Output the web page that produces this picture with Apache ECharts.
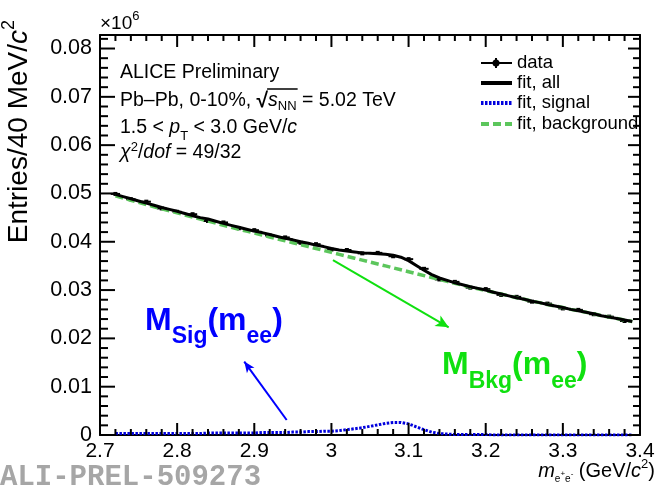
<!DOCTYPE html>
<html>
<head>
<meta charset="utf-8">
<script src="https://cdn.jsdelivr.net/npm/echarts@6/dist/echarts.min.js"></script>
<style>
  html, body { margin: 0; padding: 0; background: #fff; }
  #chart { width: 658px; height: 487px; }
</style>
</head>
<body>
<div id="chart"></div>
<script>
// Invariant-mass grid for the fit curves (GeV/c^2)
const curveMass = [
  2.72, 2.73, 2.74, 2.75, 2.76, 2.77, 2.78, 2.79,
  2.80, 2.81, 2.82, 2.83, 2.84, 2.85, 2.86, 2.87, 2.88, 2.89,
  2.90, 2.91, 2.92, 2.93, 2.94, 2.95, 2.96, 2.97, 2.98, 2.99,
  3.00, 3.01, 3.02, 3.03, 3.04, 3.05, 3.06, 3.07, 3.08, 3.09,
  3.10, 3.11, 3.12, 3.13, 3.14, 3.15, 3.16, 3.17, 3.18, 3.19,
  3.20, 3.21, 3.22, 3.23, 3.24, 3.25, 3.26, 3.27, 3.28, 3.29,
  3.30, 3.31, 3.32, 3.33, 3.34, 3.35, 3.36, 3.37, 3.38, 3.39
];
// Fit components, entries per bin in units of 10^6
const fitAll = [
  0.0498, 0.04935, 0.0489, 0.04845, 0.0480, 0.04755, 0.0471, 0.0467,
  0.0463, 0.04585, 0.0454, 0.0450, 0.0447, 0.04425, 0.0438, 0.0434, 0.0430, 0.0426,
  0.0422, 0.0419, 0.0415, 0.0411, 0.0407, 0.0404, 0.0400, 0.0397, 0.0393, 0.0390,
  0.0386, 0.0383, 0.0381, 0.0379, 0.0377, 0.0376, 0.0375, 0.0374, 0.0372, 0.0368,
  0.0361, 0.0351, 0.0341, 0.0332, 0.0325, 0.0320, 0.0315, 0.0311, 0.0307, 0.03035,
  0.0300, 0.02955, 0.0292, 0.0288, 0.0284, 0.0281, 0.0277, 0.0274, 0.0270, 0.0267,
  0.0264, 0.0260, 0.0257, 0.0254, 0.0251, 0.0247, 0.0244, 0.0241, 0.0238, 0.0235
];
const fitSignal = [
  0.0003, 0.0003, 0.0003, 0.0003, 0.0003, 0.0003, 0.0003, 0.0003,
  0.0003, 0.0003, 0.0003, 0.0003, 0.0004, 0.0004, 0.0004, 0.0004, 0.0004, 0.0004,
  0.0004, 0.0005, 0.0005, 0.0005, 0.0005, 0.0006, 0.0006, 0.0007, 0.0007, 0.0008,
  0.0008, 0.0009, 0.0011, 0.0013, 0.0015, 0.0018, 0.0021, 0.0024, 0.0026, 0.0026,
  0.0023, 0.0017, 0.0011, 0.0006, 0.0003, 0.0002, 0.0001, 0.0001, 0.0001, 0.0001,
  0.0001, 0, 0, 0, 0, 0, 0, 0, 0, 0,
  0, 0, 0, 0, 0, 0, 0, 0, 0, 0
];
const fitBackground = [
  0.0495, 0.04905, 0.0486, 0.04815, 0.0477, 0.04725, 0.0468, 0.0464,
  0.0460, 0.04555, 0.0451, 0.0447, 0.0443, 0.04385, 0.0434, 0.0430, 0.0426, 0.0422,
  0.0418, 0.0414, 0.0410, 0.0406, 0.0402, 0.0398, 0.0394, 0.0390, 0.0386, 0.0382,
  0.0378, 0.0374, 0.0370, 0.0366, 0.0362, 0.0358, 0.0354, 0.0350, 0.0346, 0.0342,
  0.0338, 0.0334, 0.0330, 0.0326, 0.0322, 0.0318, 0.0314, 0.0310, 0.0306, 0.03025,
  0.0299, 0.02955, 0.0292, 0.0288, 0.0284, 0.0281, 0.0277, 0.0274, 0.0270, 0.0267,
  0.0264, 0.0260, 0.0257, 0.0254, 0.0251, 0.0247, 0.0244, 0.0241, 0.0238, 0.0235
];
// Measured spectrum
const dataMass = [
  2.72, 2.74, 2.76, 2.78, 2.80, 2.82, 2.84, 2.86, 2.88, 2.90,
  2.92, 2.94, 2.96, 2.98, 3.00, 3.02, 3.04, 3.06, 3.08, 3.10,
  3.12, 3.14, 3.16, 3.18, 3.20, 3.22, 3.24, 3.26, 3.28, 3.30,
  3.32, 3.34, 3.36, 3.38
];
const dataEntries = [
  0.0499, 0.0488, 0.0483, 0.0469, 0.0462, 0.0457, 0.0443, 0.0440, 0.0428, 0.0424,
  0.0413, 0.0409, 0.0398, 0.0395, 0.0384, 0.0383, 0.0376, 0.0377, 0.0370, 0.0364,
  0.0344, 0.0322, 0.0317, 0.0305, 0.0302, 0.0290, 0.0286, 0.0276, 0.0272, 0.0262,
  0.0259, 0.0250, 0.0245, 0.0236
];
const dataError = [
  0.0003, 0.0003, 0.0003, 0.0003, 0.0003, 0.0003, 0.0003, 0.0003, 0.0003, 0.0003,
  0.0003, 0.0003, 0.0003, 0.0003, 0.0003, 0.0003, 0.0003, 0.0003, 0.0003, 0.0003,
  0.0003, 0.0003, 0.0003, 0.0003, 0.0003, 0.0003, 0.0003, 0.0003, 0.0003, 0.0003,
  0.0003, 0.0003, 0.0003, 0.0003
];
// Axis ticks and their labels
const massTicks = [2.7, 2.8, 2.9, 3.0, 3.1, 3.2, 3.3, 3.4];
const massTickLabels = ['2.7', '2.8', '2.9', '3', '3.1', '3.2', '3.3', '3.4'];
const entryTicks = [0, 0.01, 0.02, 0.03, 0.04, 0.05, 0.06, 0.07, 0.08];
const entryTickLabels = ['0', '0.01', '0.02', '0.03', '0.04', '0.05', '0.06', '0.07', '0.08'];

const FONT = '"Liberation Sans", Arial, Helvetica, sans-serif';
const X_MIN = 2.7, X_MAX = 3.4, Y_MIN = 0, Y_MAX = 0.0828;
const HALF_BIN = 0.006;
const TXT = 19.5;     // size of the labels inside the frame
const MINOR_DIV = 5;  // minor divisions per major interval

const pairs = (xs, ys) => xs.map((x, i) => [x, ys[i]]);

// minor tick positions: each major interval split in five, continued up to the frame top
function minorTicks(major, limit) {
  const out = [];
  const step = (major[1] - major[0]) / MINOR_DIV;
  for (let i = 0; i < major.length; i++) {
    for (let k = 1; k < MINOR_DIV; k++) {
      const v = major[i] + k * step;
      if (v < limit - 1e-9) out.push(v);
    }
  }
  return out;
}
const massMinor = minorTicks(massTicks, X_MAX);
const entryMinor = minorTicks(entryTicks, Y_MAX);

// text widths, used to place the bar of the square root
const measureCtx = document.createElement('canvas').getContext('2d');
function textWidth(str, font) { measureCtx.font = font; return measureCtx.measureText(str).width; }

const chart = echarts.init(document.getElementById('chart'), null, { renderer: 'canvas' });

function xLabel(v) {
  const i = massTicks.findIndex(t => Math.abs(t - v) < 1e-6);
  return i >= 0 ? massTickLabels[i] : '';
}
function yLabel(v) {
  const i = entryTicks.findIndex(t => Math.abs(t - v) < 1e-6);
  return i >= 0 ? entryTickLabels[i] : '';
}

function xAxisDef(pos, showLabel) {
  return {
    type: 'value', position: pos, min: X_MIN, max: X_MAX, interval: 0.1,
    axisLine: { show: true, onZero: false, lineStyle: { color: '#000', width: 2 } },
    axisTick: { show: false }, minorTick: { show: false },
    splitLine: { show: false },
    axisLabel: { show: showLabel, color: '#000', fontSize: 21, fontFamily: FONT, margin: 6, formatter: xLabel }
  };
}
function yAxisDef(pos, showLabel) {
  return {
    type: 'value', position: pos, min: Y_MIN, max: Y_MAX, interval: 0.01,
    axisLine: { show: true, onZero: false, lineStyle: { color: '#000', width: 2 } },
    axisTick: { show: false }, minorTick: { show: false },
    splitLine: { show: false },
    axisLabel: { show: showLabel, color: '#000', fontSize: 21.5, fontFamily: FONT, margin: 8, formatter: yLabel }
  };
}

// inward ticks on all four sides of the frame
function renderFrameTicks(params, api) {
  const cs = params.coordSys;
  const top = cs.y, bottom = cs.y + cs.height, left = cs.x, right = cs.x + cs.width;
  const kids = [];
  const seg = (x1, y1, x2, y2) => kids.push({
    type: 'line', shape: { x1: x1, y1: y1, x2: x2, y2: y2 }, style: { stroke: '#000', lineWidth: 2 }
  });
  massTicks.forEach(v => { const px = api.coord([v, Y_MIN])[0]; seg(px, bottom, px, bottom - 12); seg(px, top, px, top + 12); });
  massMinor.forEach(v => { const px = api.coord([v, Y_MIN])[0]; seg(px, bottom, px, bottom - 6); seg(px, top, px, top + 6); });
  entryTicks.forEach(v => { const py = api.coord([X_MIN, v])[1]; seg(left, py, left + 15, py); seg(right, py, right - 12, py); });
  entryMinor.forEach(v => { const py = api.coord([X_MIN, v])[1]; seg(left, py, left + 8, py); seg(right, py, right - 7, py); });
  return { type: 'group', children: kids };
}

const legendX0 = 481, legendX1 = 512, legendText = 517;
const legendRows = [63, 83, 103, 124];

// square-root bar over s_NN
const rootStart = 120 + textWidth('Pb–Pb, 0-10%, ', TXT + 'px "Liberation Sans"');
const rootEnd = rootStart + textWidth('√', 'bold 21px "Liberation Sans"');
const barEnd = rootEnd + textWidth('s', 'italic ' + TXT + 'px "Liberation Sans"') + textWidth('NN', '13px "Liberation Sans"');

const option = {
  animation: false,
  backgroundColor: '#fff',
  grid: { left: 100, right: 18, top: 35, bottom: 52 },
  xAxis: [xAxisDef('bottom', true), xAxisDef('top', false)],
  yAxis: [yAxisDef('left', true), yAxisDef('right', false)],
  series: [
    {
      name: 'frame ticks', type: 'custom', silent: true, z: 6,
      data: [[X_MIN, Y_MIN]],
      renderItem: renderFrameTicks
    },
    {
      name: 'data', type: 'custom', xAxisIndex: 0, yAxisIndex: 0, z: 2,
      data: dataMass.map((x, i) => [x, dataEntries[i], dataError[i]]),
      renderItem: function (params, api) {
        const x = api.value(0), y = api.value(1), e = api.value(2);
        const c = api.coord([x, y]);
        const hi = api.coord([x, y + e]);
        const lo = api.coord([x, y - e]);
        const l = api.coord([x - HALF_BIN, y]);
        const r = api.coord([x + HALF_BIN, y]);
        return {
          type: 'group', children: [
            { type: 'line', shape: { x1: l[0], y1: c[1], x2: r[0], y2: c[1] }, style: { stroke: '#000', lineWidth: 2 } },
            { type: 'line', shape: { x1: c[0], y1: hi[1], x2: c[0], y2: lo[1] }, style: { stroke: '#000', lineWidth: 2 } },
            { type: 'rect', shape: { x: c[0] - 2, y: c[1] - 2, width: 4, height: 4 }, style: { fill: '#000' } }
          ]
        };
      }
    },
    {
      name: 'fit, background', type: 'line', z: 3, showSymbol: false,
      data: pairs(curveMass, fitBackground),
      lineStyle: { color: '#5cc65c', width: 3.5, type: [8, 4] },
      markLine: {
        silent: true, symbol: ['none', 'arrow'], symbolSize: [9, 13],
        label: { show: false },
        lineStyle: { color: '#10e010', width: 2, type: 'solid' },
        data: [[{ coord: [3.002, 0.0362] }, { coord: [3.152, 0.0223] }]]
      }
    },
    {
      name: 'fit, signal', type: 'line', z: 4, showSymbol: false,
      data: pairs(curveMass, fitSignal),
      lineStyle: { color: '#0000dd', width: 3, type: [2.5, 1.5] },
      markLine: {
        silent: true, symbol: ['none', 'arrow'], symbolSize: [7, 11],
        label: { show: false },
        lineStyle: { color: '#0000ff', width: 2, type: 'solid' },
        data: [[{ coord: [2.942, 0.0031] }, { coord: [2.887, 0.0152] }]]
      }
    },
    {
      name: 'fit, all', type: 'line', z: 5, showSymbol: false,
      data: pairs(curveMass, fitAll),
      lineStyle: { color: '#000', width: 3 }
    }
  ],
  graphic: [
    // exponent of the y axis
    {
      type: 'text', x: 100, y: 24,
      style: {
        text: '{a|×10}{s|6}', verticalAlign: 'middle', align: 'left',
        rich: {
          a: { fontSize: 19, fontFamily: FONT, fill: '#000' },
          s: { fontSize: 13, fontFamily: FONT, fill: '#000', padding: [0, 0, 16, 0] }
        }
      }
    },
    // y axis title
    {
      type: 'text', x: 19, y: 20, rotation: Math.PI / 2,
      style: {
        text: '{a|Entries/40 MeV/}{i|c}{s|2}', align: 'right', verticalAlign: 'middle',
        rich: {
          a: { fontSize: 28, fontFamily: FONT, fill: '#000' },
          i: { fontSize: 28, fontFamily: FONT, fontStyle: 'italic', fill: '#000' },
          s: { fontSize: 18, fontFamily: FONT, fill: '#000', padding: [0, 0, 20, 0] }
        }
      }
    },
    // x axis title
    {
      type: 'text', x: 655, y: 471,
      style: {
        text: '{i|m}{sub|e}{ss|+}{sub|e}{ss|-}{a| (GeV/}{i|c}{sup|2}{a|)}', align: 'right', verticalAlign: 'middle',
        rich: {
          a: { fontSize: 20, fontFamily: FONT, fill: '#000' },
          i: { fontSize: 20, fontFamily: FONT, fontStyle: 'italic', fill: '#000' },
          sub: { fontSize: 10, fontFamily: FONT, fill: '#000', padding: [16, 0, 0, 0] },
          ss: { fontSize: 8, fontFamily: FONT, fill: '#000', padding: [6, 0, 0, 0] },
          sup: { fontSize: 13, fontFamily: FONT, fill: '#000', padding: [0, 0, 14, 0] }
        }
      }
    },
    // labels inside the frame
    {
      type: 'text', x: 120, y: 73,
      style: { text: 'ALICE Preliminary', fontSize: TXT, fontFamily: FONT, fill: '#000', verticalAlign: 'middle' }
    },
    {
      type: 'text', x: 120, y: 101,
      style: {
        text: '{a|Pb–Pb, 0-10%, }{r|√}{i|s}{sub|NN}{a| = 5.02 TeV}', verticalAlign: 'middle',
        rich: {
          a: { fontSize: TXT, fontFamily: FONT, fill: '#000' },
          r: { fontSize: 21, fontFamily: FONT, fill: '#000', fontWeight: 'bold' },
          i: { fontSize: TXT, fontFamily: FONT, fontStyle: 'italic', fill: '#000' },
          sub: { fontSize: 13, fontFamily: FONT, fill: '#000', padding: [10, 0, 0, 0] }
        }
      }
    },
    {
      type: 'line', shape: { x1: rootEnd - 1, y1: 89, x2: barEnd + 1, y2: 89 }, style: { stroke: '#000', lineWidth: 1.5 }
    },
    {
      type: 'text', x: 120, y: 128,
      style: {
        text: '{a|1.5 < }{i|p}{sub|T}{a| < 3.0 GeV/}{i|c}', verticalAlign: 'middle',
        rich: {
          a: { fontSize: TXT, fontFamily: FONT, fill: '#000' },
          i: { fontSize: TXT, fontFamily: FONT, fontStyle: 'italic', fill: '#000' },
          sub: { fontSize: 13, fontFamily: FONT, fill: '#000', padding: [16, 0, 0, 0] }
        }
      }
    },
    {
      type: 'text', x: 120, y: 153,
      style: {
        text: '{i|χ}{sup|2}{a|/}{i|dof}{a| = 49/32}', verticalAlign: 'middle',
        rich: {
          a: { fontSize: TXT, fontFamily: FONT, fill: '#000' },
          i: { fontSize: TXT, fontFamily: FONT, fontStyle: 'italic', fill: '#000' },
          sup: { fontSize: 13, fontFamily: FONT, fill: '#000', padding: [0, 0, 12, 0] }
        }
      }
    },
    // legend
    { type: 'line', shape: { x1: legendX0, y1: legendRows[0], x2: legendX1, y2: legendRows[0] }, style: { stroke: '#000', lineWidth: 2 } },
    { type: 'line', shape: { x1: 496, y1: legendRows[0] - 5, x2: 496, y2: legendRows[0] + 5 }, style: { stroke: '#000', lineWidth: 2 } },
    { type: 'circle', shape: { cx: 496, cy: legendRows[0], r: 3.5 }, style: { fill: '#000' } },
    { type: 'line', shape: { x1: legendX0, y1: legendRows[1], x2: legendX1, y2: legendRows[1] }, style: { stroke: '#000', lineWidth: 4 } },
    { type: 'line', shape: { x1: legendX0, y1: legendRows[2], x2: legendX1, y2: legendRows[2] }, style: { stroke: '#0000dd', lineWidth: 4, lineDash: [2.5, 1.5] } },
    { type: 'line', shape: { x1: legendX0, y1: legendRows[3], x2: legendX1, y2: legendRows[3] }, style: { stroke: '#5cc65c', lineWidth: 4, lineDash: [8, 4] } },
    { type: 'text', x: legendText, y: legendRows[0], style: { text: 'data', fontSize: 18.5, fontFamily: FONT, fill: '#000', verticalAlign: 'middle' } },
    { type: 'text', x: legendText, y: legendRows[1], style: { text: 'fit, all', fontSize: 18.5, fontFamily: FONT, fill: '#000', verticalAlign: 'middle' } },
    { type: 'text', x: legendText, y: legendRows[2], style: { text: 'fit, signal', fontSize: 18.5, fontFamily: FONT, fill: '#000', verticalAlign: 'middle' } },
    { type: 'text', x: legendText, y: legendRows[3], style: { text: 'fit, background', fontSize: 18.5, fontFamily: FONT, fill: '#000', verticalAlign: 'middle' } },
    // component labels
    {
      type: 'text', x: 145, y: 321,
      style: {
        text: '{m|M}{s|Sig}{m|(m}{s|ee}{m|)}', verticalAlign: 'middle',
        rich: {
          m: { fontSize: 32, fontWeight: 'bold', fontFamily: FONT, fill: '#0000ff' },
          s: { fontSize: 23, fontWeight: 'bold', fontFamily: FONT, fill: '#0000ff', padding: [32, 0, 0, 0] }
        }
      }
    },
    {
      type: 'text', x: 442, y: 365,
      style: {
        text: '{m|M}{s|Bkg}{m|(m}{s|ee}{m|)}', verticalAlign: 'middle',
        rich: {
          m: { fontSize: 32, fontWeight: 'bold', fontFamily: FONT, fill: '#10e010' },
          s: { fontSize: 23, fontWeight: 'bold', fontFamily: FONT, fill: '#10e010', padding: [34, 0, 0, 0] }
        }
      }
    },
    // preliminary figure tag
    {
      type: 'text', x: 0, y: 478,
      style: { text: 'ALI-PREL-509273', fontSize: 29, fontWeight: 'bold', fontFamily: '"Liberation Mono", "DejaVu Sans Mono", monospace', fill: '#a6a6a6', verticalAlign: 'middle' }
    }
  ]
};

chart.setOption(option);
</script>
</body>
</html>
